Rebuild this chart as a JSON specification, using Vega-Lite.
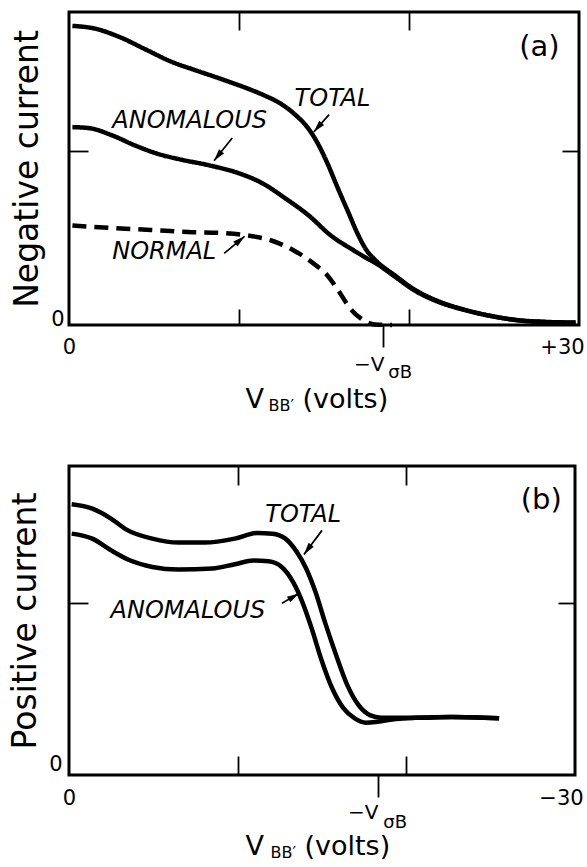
{
  "$schema": "https://vega.github.io/schema/vega-lite/v6.json",
  "padding": {"left": 8, "top": 9, "right": 0, "bottom": 0},
  "spacing": 48,
  "config": {
    "view": {"stroke": "black", "strokeWidth": 3},
    "axis": {"domain": false, "grid": false, "labelFont": "DejaVu Sans", "labelFontSize": 21, "labelColor": "black", "labelFlush": false, "labelOverlap": false, "tickColor": "black", "tickWidth": 1.8, "titleFont": "DejaVu Sans", "titleFontWeight": "normal", "titleColor": "black"},
    "text": {"font": "DejaVu Sans", "color": "black"}
  },
  "datasets": {
    "curvesA": [
      {"curve": "TOTAL", "x": 0.2, "y": 1.72}, {"curve": "TOTAL", "x": 1.5, "y": 1.705}, {"curve": "TOTAL", "x": 3.0, "y": 1.655}, {"curve": "TOTAL", "x": 4.5, "y": 1.585}, {"curve": "TOTAL", "x": 6.0, "y": 1.515}, {"curve": "TOTAL", "x": 7.5, "y": 1.463}, {"curve": "TOTAL", "x": 9.0, "y": 1.413}, {"curve": "TOTAL", "x": 10.5, "y": 1.36}, {"curve": "TOTAL", "x": 11.5, "y": 1.32}, {"curve": "TOTAL", "x": 12.5, "y": 1.27}, {"curve": "TOTAL", "x": 13.3, "y": 1.21}, {"curve": "TOTAL", "x": 14.0, "y": 1.14}, {"curve": "TOTAL", "x": 14.6, "y": 1.05}, {"curve": "TOTAL", "x": 15.2, "y": 0.93}, {"curve": "TOTAL", "x": 15.8, "y": 0.79}, {"curve": "TOTAL", "x": 16.4, "y": 0.655}, {"curve": "TOTAL", "x": 17.0, "y": 0.52}, {"curve": "TOTAL", "x": 17.5, "y": 0.43}, {"curve": "TOTAL", "x": 18.0, "y": 0.375}, {"curve": "TOTAL", "x": 19.2, "y": 0.283}, {"curve": "TOTAL", "x": 20.3, "y": 0.205}, {"curve": "TOTAL", "x": 21.7, "y": 0.138}, {"curve": "TOTAL", "x": 23.2, "y": 0.09}, {"curve": "TOTAL", "x": 24.8, "y": 0.053}, {"curve": "TOTAL", "x": 26.5, "y": 0.027}, {"curve": "TOTAL", "x": 28.0, "y": 0.018}, {"curve": "TOTAL", "x": 29.8, "y": 0.014},
      {"curve": "ANOMALOUS", "x": 0.2, "y": 1.138}, {"curve": "ANOMALOUS", "x": 1.2, "y": 1.132}, {"curve": "ANOMALOUS", "x": 2.5, "y": 1.092}, {"curve": "ANOMALOUS", "x": 3.9, "y": 1.032}, {"curve": "ANOMALOUS", "x": 5.2, "y": 0.985}, {"curve": "ANOMALOUS", "x": 6.5, "y": 0.953}, {"curve": "ANOMALOUS", "x": 8.3, "y": 0.917}, {"curve": "ANOMALOUS", "x": 10.1, "y": 0.869}, {"curve": "ANOMALOUS", "x": 11.4, "y": 0.814}, {"curve": "ANOMALOUS", "x": 12.7, "y": 0.73}, {"curve": "ANOMALOUS", "x": 14.1, "y": 0.63}, {"curve": "ANOMALOUS", "x": 15.4, "y": 0.515}, {"curve": "ANOMALOUS", "x": 16.7, "y": 0.432}, {"curve": "ANOMALOUS", "x": 17.5, "y": 0.385}, {"curve": "ANOMALOUS", "x": 18.1, "y": 0.352}, {"curve": "ANOMALOUS", "x": 19.2, "y": 0.276}, {"curve": "ANOMALOUS", "x": 20.3, "y": 0.2}, {"curve": "ANOMALOUS", "x": 21.7, "y": 0.134}, {"curve": "ANOMALOUS", "x": 23.2, "y": 0.088}, {"curve": "ANOMALOUS", "x": 24.8, "y": 0.052}, {"curve": "ANOMALOUS", "x": 26.5, "y": 0.026}, {"curve": "ANOMALOUS", "x": 28.0, "y": 0.017}, {"curve": "ANOMALOUS", "x": 29.8, "y": 0.013},
      {"curve": "NORMAL", "x": 0.2, "y": 0.572}, {"curve": "NORMAL", "x": 2.5, "y": 0.558}, {"curve": "NORMAL", "x": 4.8, "y": 0.547}, {"curve": "NORMAL", "x": 7.0, "y": 0.535}, {"curve": "NORMAL", "x": 9.2, "y": 0.528}, {"curve": "NORMAL", "x": 10.5, "y": 0.515}, {"curve": "NORMAL", "x": 11.9, "y": 0.486}, {"curve": "NORMAL", "x": 13.2, "y": 0.43}, {"curve": "NORMAL", "x": 14.3, "y": 0.36}, {"curve": "NORMAL", "x": 15.2, "y": 0.285}, {"curve": "NORMAL", "x": 15.9, "y": 0.19}, {"curve": "NORMAL", "x": 16.5, "y": 0.1}, {"curve": "NORMAL", "x": 17.2, "y": 0.035}, {"curve": "NORMAL", "x": 18.0, "y": 0.003}, {"curve": "NORMAL", "x": 19.0, "y": 0.0}
    ],
    "labelsA": [
      {"label": "TOTAL", "x": 15.5, "y": 1.3},
      {"label": "ANOMALOUS", "x": 7.1, "y": 1.176},
      {"label": "NORMAL", "x": 5.6, "y": 0.418}
    ],
    "arrowsA": [
      {"curve": "TOTAL", "x": 15.3, "y": 1.21, "hx": 14.4, "hy": 1.11, "heading": 221},
      {"curve": "ANOMALOUS", "x": 9.6, "y": 1.075, "hx": 8.53, "hy": 0.945, "heading": 219},
      {"curve": "NORMAL", "x": 9.13, "y": 0.412, "hx": 10.33, "hy": 0.51, "heading": 50}
    ],
    "tagA": [{"label": "(a)", "x": 27.67, "y": 1.6}],
    "curvesB": [
      {"curve": "TOTAL", "x": -0.16, "y": 1.577}, {"curve": "TOTAL", "x": -1.38, "y": 1.552}, {"curve": "TOTAL", "x": -2.49, "y": 1.494}, {"curve": "TOTAL", "x": -3.38, "y": 1.431}, {"curve": "TOTAL", "x": -4.94, "y": 1.377}, {"curve": "TOTAL", "x": -6.49, "y": 1.354}, {"curve": "TOTAL", "x": -8.05, "y": 1.354}, {"curve": "TOTAL", "x": -9.83, "y": 1.377}, {"curve": "TOTAL", "x": -11.16, "y": 1.41}, {"curve": "TOTAL", "x": -12.05, "y": 1.406}, {"curve": "TOTAL", "x": -12.83, "y": 1.377}, {"curve": "TOTAL", "x": -13.5, "y": 1.3}, {"curve": "TOTAL", "x": -14.06, "y": 1.203}, {"curve": "TOTAL", "x": -14.61, "y": 1.067}, {"curve": "TOTAL", "x": -15.17, "y": 0.892}, {"curve": "TOTAL", "x": -15.84, "y": 0.698}, {"curve": "TOTAL", "x": -16.5, "y": 0.524}, {"curve": "TOTAL", "x": -17.17, "y": 0.407}, {"curve": "TOTAL", "x": -17.84, "y": 0.349}, {"curve": "TOTAL", "x": -18.5, "y": 0.334}, {"curve": "TOTAL", "x": -20.5, "y": 0.333}, {"curve": "TOTAL", "x": -22.7, "y": 0.338}, {"curve": "TOTAL", "x": -25.5, "y": 0.33},
      {"curve": "ANOMALOUS", "x": -0.16, "y": 1.406}, {"curve": "ANOMALOUS", "x": -1.38, "y": 1.377}, {"curve": "ANOMALOUS", "x": -2.49, "y": 1.309}, {"curve": "ANOMALOUS", "x": -3.6, "y": 1.251}, {"curve": "ANOMALOUS", "x": -4.94, "y": 1.212}, {"curve": "ANOMALOUS", "x": -6.49, "y": 1.197}, {"curve": "ANOMALOUS", "x": -8.5, "y": 1.203}, {"curve": "ANOMALOUS", "x": -9.83, "y": 1.228}, {"curve": "ANOMALOUS", "x": -10.94, "y": 1.249}, {"curve": "ANOMALOUS", "x": -11.83, "y": 1.245}, {"curve": "ANOMALOUS", "x": -12.61, "y": 1.212}, {"curve": "ANOMALOUS", "x": -13.28, "y": 1.125}, {"curve": "ANOMALOUS", "x": -13.83, "y": 1.009}, {"curve": "ANOMALOUS", "x": -14.39, "y": 0.853}, {"curve": "ANOMALOUS", "x": -14.94, "y": 0.679}, {"curve": "ANOMALOUS", "x": -15.61, "y": 0.504}, {"curve": "ANOMALOUS", "x": -16.28, "y": 0.388}, {"curve": "ANOMALOUS", "x": -16.94, "y": 0.33}, {"curve": "ANOMALOUS", "x": -17.61, "y": 0.305}, {"curve": "ANOMALOUS", "x": -18.28, "y": 0.31}, {"curve": "ANOMALOUS", "x": -19.39, "y": 0.326}, {"curve": "ANOMALOUS", "x": -20.5, "y": 0.333}, {"curve": "ANOMALOUS", "x": -22.7, "y": 0.338}, {"curve": "ANOMALOUS", "x": -25.5, "y": 0.33}
    ],
    "labelsB": [
      {"label": "TOTAL", "x": -13.88, "y": 1.513},
      {"label": "ANOMALOUS", "x": -7.05, "y": 0.956}
    ],
    "arrowsB": [
      {"curve": "TOTAL", "x": -15.0, "y": 1.425, "hx": -13.93, "hy": 1.285, "heading": 217},
      {"curve": "ANOMALOUS", "x": -12.63, "y": 1.0, "hx": -13.63, "hy": 1.058, "heading": 59}
    ],
    "tagB": [{"label": "(b)", "x": -28.0, "y": 1.6}]
  },
  "vconcat": [
    {
      "width": 510,
      "height": 313,
      "layer": [
        {
          "data": {"name": "curvesA"},
          "mark": {"type": "line", "interpolate": "monotone", "strokeWidth": 4.5, "color": "black"},
          "encoding": {
            "x": {"field": "x", "type": "quantitative", "scale": {"domain": [0, 30], "nice": false, "zero": false},
              "axis": {"orient": "bottom", "values": [0, 30], "ticks": false, "labelPadding": 11, "labelBaseline": "top",
                "labelExpr": "datum.value == 0 ? '0' : '+30'",
                "labelOffset": {"condition": {"test": "datum.value == 30", "value": -17}, "value": 0},
                "title": "V", "titleFontSize": 27, "titleX": 176, "titleY": 82, "titleAlign": "left", "titleBaseline": "alphabetic"}},
            "y": {"field": "y", "type": "quantitative", "scale": {"domain": [0, 1.8], "nice": false, "zero": false},
              "axis": {"orient": "left", "values": [0], "ticks": false, "labelExpr": "'0'", "labelPadding": 5, "labelBaseline": "alphabetic",
                "title": "Negative current", "titleFontSize": 33, "titlePadding": 6}},
            "detail": {"field": "curve"},
            "strokeDash": {"field": "curve", "type": "nominal", "scale": {"domain": ["TOTAL", "ANOMALOUS", "NORMAL"], "range": [[1, 0], [1, 0], [14, 8]]}, "legend": null}
          }
        },
        {
          "data": {"name": "labelsA"},
          "mark": {"type": "text", "fontStyle": "italic", "fontSize": 24, "align": "center", "baseline": "middle"},
          "encoding": {
            "x": {"field": "x", "type": "quantitative", "scale": {"domain": [0, 30], "nice": false, "zero": false},
              "axis": {"orient": "top", "values": [10, 20], "tickSize": -18, "labels": false, "title": null}},
            "y": {"field": "y", "type": "quantitative", "scale": {"domain": [0, 1.8], "nice": false, "zero": false},
              "axis": {"orient": "right", "values": [1], "tickSize": -17, "labels": false, "title": null}},
            "text": {"field": "label"}
          }
        },
        {
          "data": {"name": "arrowsA"},
          "mark": {"type": "rule", "strokeWidth": 1.7, "color": "black"},
          "encoding": {
            "x": {"field": "x", "type": "quantitative", "scale": {"domain": [0, 30], "nice": false, "zero": false},
              "axis": {"orient": "bottom", "values": [10, 20], "tickSize": -16, "labels": false,
                "title": "BB′", "titleFontSize": 16, "titleX": 199, "titleY": 85, "titleAlign": "left", "titleBaseline": "alphabetic"}},
            "y": {"field": "y", "type": "quantitative", "scale": {"domain": [0, 1.8], "nice": false, "zero": false},
              "axis": {"orient": "left", "values": [1], "tickSize": -19, "labels": false, "title": null}},
            "x2": {"field": "hx"},
            "y2": {"field": "hy"}
          }
        },
        {
          "data": {"name": "arrowsA"},
          "mark": {"type": "point", "filled": true, "shape": "M0,0L0.27,1L-0.27,1Z", "size": 576, "color": "black", "opacity": 1, "strokeWidth": 0},
          "encoding": {
            "x": {"field": "hx", "type": "quantitative", "scale": {"domain": [0, 30], "nice": false, "zero": false},
              "axis": {"orient": "bottom", "values": [18.45], "tickSize": 22, "labelExpr": "'−V'", "labelFontSize": 20, "labelOffset": -14, "labelPadding": 23, "labelBaseline": "alphabetic",
                "title": "(volts)", "titleFontSize": 27, "titleX": 233, "titleY": 82, "titleAlign": "left", "titleBaseline": "alphabetic"}},
            "y": {"field": "hy", "type": "quantitative", "scale": {"domain": [0, 1.8], "nice": false, "zero": false}, "axis": null},
            "angle": {"field": "heading", "type": "quantitative", "scale": null}
          }
        },
        {
          "data": {"name": "tagA"},
          "mark": {"type": "text", "fontSize": 29, "align": "center", "baseline": "middle"},
          "encoding": {
            "x": {"field": "x", "type": "quantitative", "scale": {"domain": [0, 30], "nice": false, "zero": false},
              "axis": {"orient": "bottom", "values": [18.45], "ticks": false, "labelExpr": "'σB'", "labelFontSize": 18, "labelOffset": 17, "labelPadding": 52, "labelBaseline": "alphabetic", "title": null}},
            "y": {"field": "y", "type": "quantitative", "scale": {"domain": [0, 1.8], "nice": false, "zero": false}, "axis": null},
            "text": {"field": "label"}
          }
        }
      ]
    },
    {
      "width": 506,
      "height": 309,
      "layer": [
        {
          "data": {"name": "curvesB"},
          "mark": {"type": "line", "interpolate": "monotone", "strokeWidth": 4.5, "color": "black"},
          "encoding": {
            "x": {"field": "x", "type": "quantitative", "scale": {"domain": [0, -30], "nice": false, "zero": false},
              "axis": {"orient": "bottom", "values": [0, -30], "ticks": false, "labelPadding": 12, "labelBaseline": "top",
                "labelExpr": "datum.value == 0 ? '0' : '−30'",
                "labelOffset": {"condition": {"test": "datum.value == -30", "value": -14}, "value": 0},
                "title": "V", "titleFontSize": 27, "titleX": 176, "titleY": 79, "titleAlign": "left", "titleBaseline": "alphabetic"}},
            "y": {"field": "y", "type": "quantitative", "scale": {"domain": [0, 1.8], "nice": false, "zero": false},
              "axis": {"orient": "left", "values": [0], "ticks": false, "labelExpr": "'0'", "labelPadding": 7, "labelBaseline": "alphabetic", "labelOffset": -5,
                "title": "Positive current", "titleFontSize": 33, "titlePadding": 6}},
            "detail": {"field": "curve"},
            "order": {"field": "x", "sort": "descending"}
          }
        },
        {
          "data": {"name": "labelsB"},
          "mark": {"type": "text", "fontStyle": "italic", "fontSize": 24, "align": "center", "baseline": "middle"},
          "encoding": {
            "x": {"field": "x", "type": "quantitative", "scale": {"domain": [0, -30], "nice": false, "zero": false},
              "axis": {"orient": "top", "values": [-10, -20], "tickSize": -19, "labels": false, "title": null}},
            "y": {"field": "y", "type": "quantitative", "scale": {"domain": [0, 1.8], "nice": false, "zero": false},
              "axis": {"orient": "right", "values": [1], "tickSize": -17, "labels": false, "title": null}},
            "text": {"field": "label"}
          }
        },
        {
          "data": {"name": "arrowsB"},
          "mark": {"type": "rule", "strokeWidth": 1.7, "color": "black"},
          "encoding": {
            "x": {"field": "x", "type": "quantitative", "scale": {"domain": [0, -30], "nice": false, "zero": false},
              "axis": {"orient": "bottom", "values": [-10, -20], "tickSize": -19, "labels": false,
                "title": "BB′", "titleFontSize": 16, "titleX": 201, "titleY": 82, "titleAlign": "left", "titleBaseline": "alphabetic"}},
            "y": {"field": "y", "type": "quantitative", "scale": {"domain": [0, 1.8], "nice": false, "zero": false},
              "axis": {"orient": "left", "values": [1], "tickSize": -19, "labels": false, "title": null}},
            "x2": {"field": "hx"},
            "y2": {"field": "hy"}
          }
        },
        {
          "data": {"name": "arrowsB"},
          "mark": {"type": "point", "filled": true, "shape": "M0,0L0.27,1L-0.27,1Z", "size": 576, "color": "black", "opacity": 1, "strokeWidth": 0},
          "encoding": {
            "x": {"field": "hx", "type": "quantitative", "scale": {"domain": [0, -30], "nice": false, "zero": false},
              "axis": {"orient": "bottom", "values": [-18.3], "tickSize": 22, "labelExpr": "'−V'", "labelFontSize": 20, "labelOffset": -15, "labelPadding": 21, "labelBaseline": "alphabetic",
                "title": "(volts)", "titleFontSize": 27, "titleX": 235, "titleY": 79, "titleAlign": "left", "titleBaseline": "alphabetic"}},
            "y": {"field": "hy", "type": "quantitative", "scale": {"domain": [0, 1.8], "nice": false, "zero": false}, "axis": null},
            "angle": {"field": "heading", "type": "quantitative", "scale": null}
          }
        },
        {
          "data": {"name": "tagB"},
          "mark": {"type": "text", "fontSize": 29, "align": "center", "baseline": "middle"},
          "encoding": {
            "x": {"field": "x", "type": "quantitative", "scale": {"domain": [0, -30], "nice": false, "zero": false},
              "axis": {"orient": "bottom", "values": [-18.3], "ticks": false, "labelExpr": "'σB'", "labelFontSize": 18, "labelOffset": 17, "labelPadding": 52, "labelBaseline": "alphabetic", "title": null}},
            "y": {"field": "y", "type": "quantitative", "scale": {"domain": [0, 1.8], "nice": false, "zero": false}, "axis": null},
            "text": {"field": "label"}
          }
        }
      ]
    }
  ]
}
